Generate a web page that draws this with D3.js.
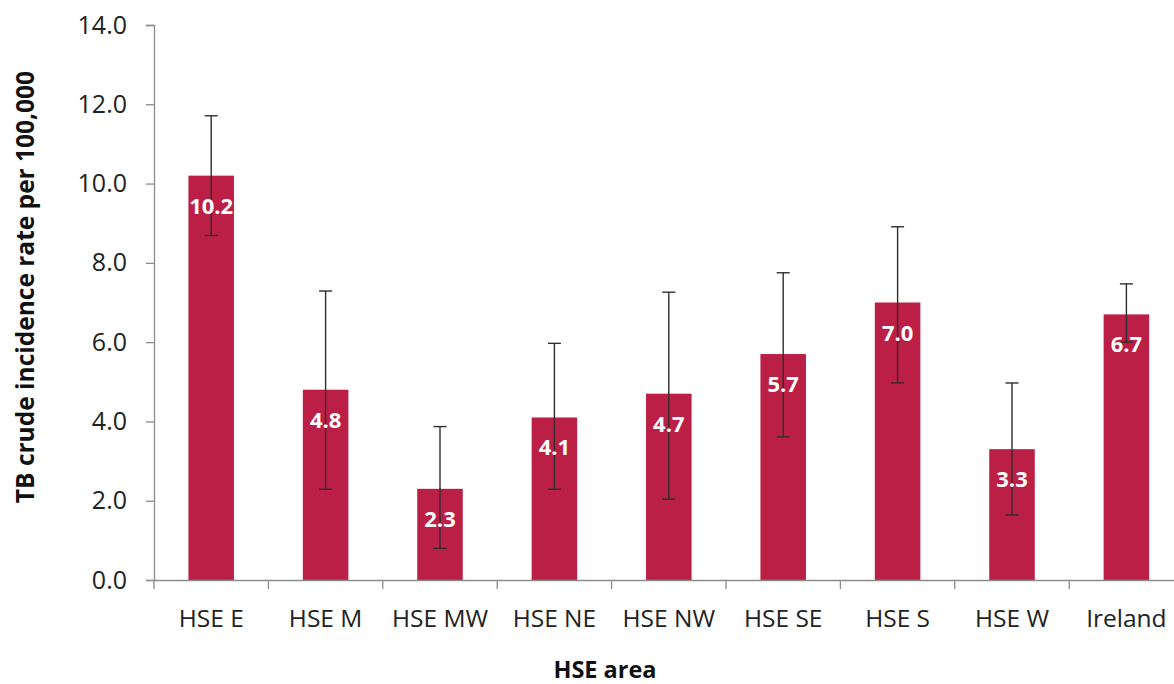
<!DOCTYPE html>
<html><head><meta charset="utf-8">
<script src="https://cdn.jsdelivr.net/npm/d3@7"></script>
<style>
html,body{margin:0;padding:0;background:#fff;overflow:hidden}
svg{display:block;font-family:"Open Sans",sans-serif}
</style></head>
<body><svg id="c" width="1174" height="684"></svg>
<script>
const categories = ["HSE E","HSE M","HSE MW","HSE NE","HSE NW","HSE SE","HSE S","HSE W","Ireland"];
const rates      = [10.2, 4.8, 2.3, 4.1, 4.7, 5.7, 7.0, 3.3, 6.7];
const ciLower    = [8.69, 2.29, 0.80, 2.29, 2.04, 3.61, 4.97, 1.64, 6.00];
const ciUpper    = [11.71, 7.29, 3.87, 5.97, 7.26, 7.75, 8.91, 4.97, 7.47];
const yTicks     = [0, 2, 4, 6, 8, 10, 12, 14];
const yTitle = "TB crude incidence rate per 100,000";
const xTitle = "HSE area";

const svg = d3.select("#c");
const x = d3.scaleBand().domain(categories).range([154, 1183.6]).padding(0);
const y = d3.scaleLinear().domain([0, 14]).range([580, 25]);
const barW = x.bandwidth() * 0.398;
const axisCol = "#8c8c8c";

// bars
svg.append("g").selectAll("rect").data(categories).join("rect")
  .attr("x", d => x(d) + x.bandwidth()/2 - barW/2)
  .attr("y", (d,i) => y(rates[i]))
  .attr("width", barW)
  .attr("height", (d,i) => y(0) - y(rates[i]))
  .attr("fill", "#bc1f45");

// y axis
const yAxis = svg.append("g").attr("transform", "translate(154,0)")
  .call(d3.axisLeft(y).tickValues(yTicks).tickFormat(d3.format(".1f")).tickSize(8).tickPadding(19));
yAxis.select(".domain").attr("stroke", axisCol).attr("stroke-width", 1.3);
yAxis.selectAll(".tick line").attr("stroke", axisCol).attr("stroke-width", 1.3);
yAxis.selectAll(".tick text").attr("fill", "#222").style("font-size", "25px").style("font-family", "'Open Sans',sans-serif");

// x axis
const xAxis = svg.append("g").attr("transform", "translate(0,580)")
  .call(d3.axisBottom(x).tickSize(0).tickPadding(30));
xAxis.select(".domain").attr("stroke", axisCol).attr("stroke-width", 1.3);
xAxis.selectAll(".tick text").attr("fill", "#222").style("font-size", "24.5px").style("font-family", "'Open Sans',sans-serif");
// boundary tick marks
svg.append("g").selectAll("line").data(categories).join("line")
  .attr("x1", d => x(d)).attr("x2", d => x(d))
  .attr("y1", 580).attr("y2", 589)
  .attr("stroke", axisCol).attr("stroke-width", 1.3);

// error bars
const eb = svg.append("g").attr("stroke", "#2e2e2e").attr("stroke-width", 1.4);
const cx = d => x(d) + x.bandwidth()/2;
eb.selectAll("line.v").data(categories).join("line").attr("class","v")
  .attr("x1", cx).attr("x2", cx)
  .attr("y1", (d,i) => y(ciUpper[i])).attr("y2", (d,i) => y(ciLower[i]));
eb.selectAll("line.t").data(categories).join("line").attr("class","t")
  .attr("x1", d => cx(d) - 6.5).attr("x2", d => cx(d) + 6.5)
  .attr("y1", (d,i) => y(ciUpper[i])).attr("y2", (d,i) => y(ciUpper[i]));
eb.selectAll("line.b").data(categories).join("line").attr("class","b")
  .attr("x1", d => cx(d) - 6.5).attr("x2", d => cx(d) + 6.5)
  .attr("y1", (d,i) => y(ciLower[i])).attr("y2", (d,i) => y(ciLower[i]));

// value labels
svg.append("g").selectAll("text").data(categories).join("text")
  .attr("x", cx)
  .attr("y", (d,i) => y(rates[i]) + 38)
  .attr("text-anchor", "middle")
  .attr("fill", "#fff")
  .style("font-size", "22px").style("font-weight", "bold")
  .text((d,i) => d3.format(".1f")(rates[i]));

// titles
svg.append("text").attr("x", 605).attr("y", 678).attr("text-anchor", "middle")
  .style("font-size", "23.5px").style("font-weight", "bold").attr("fill", "#111").text(xTitle);
svg.append("text").attr("transform", "translate(34,287) rotate(-90)").attr("text-anchor", "middle")
  .style("font-size", "24.5px").style("font-weight", "bold").attr("fill", "#111").text(yTitle);
</script></body></html>
